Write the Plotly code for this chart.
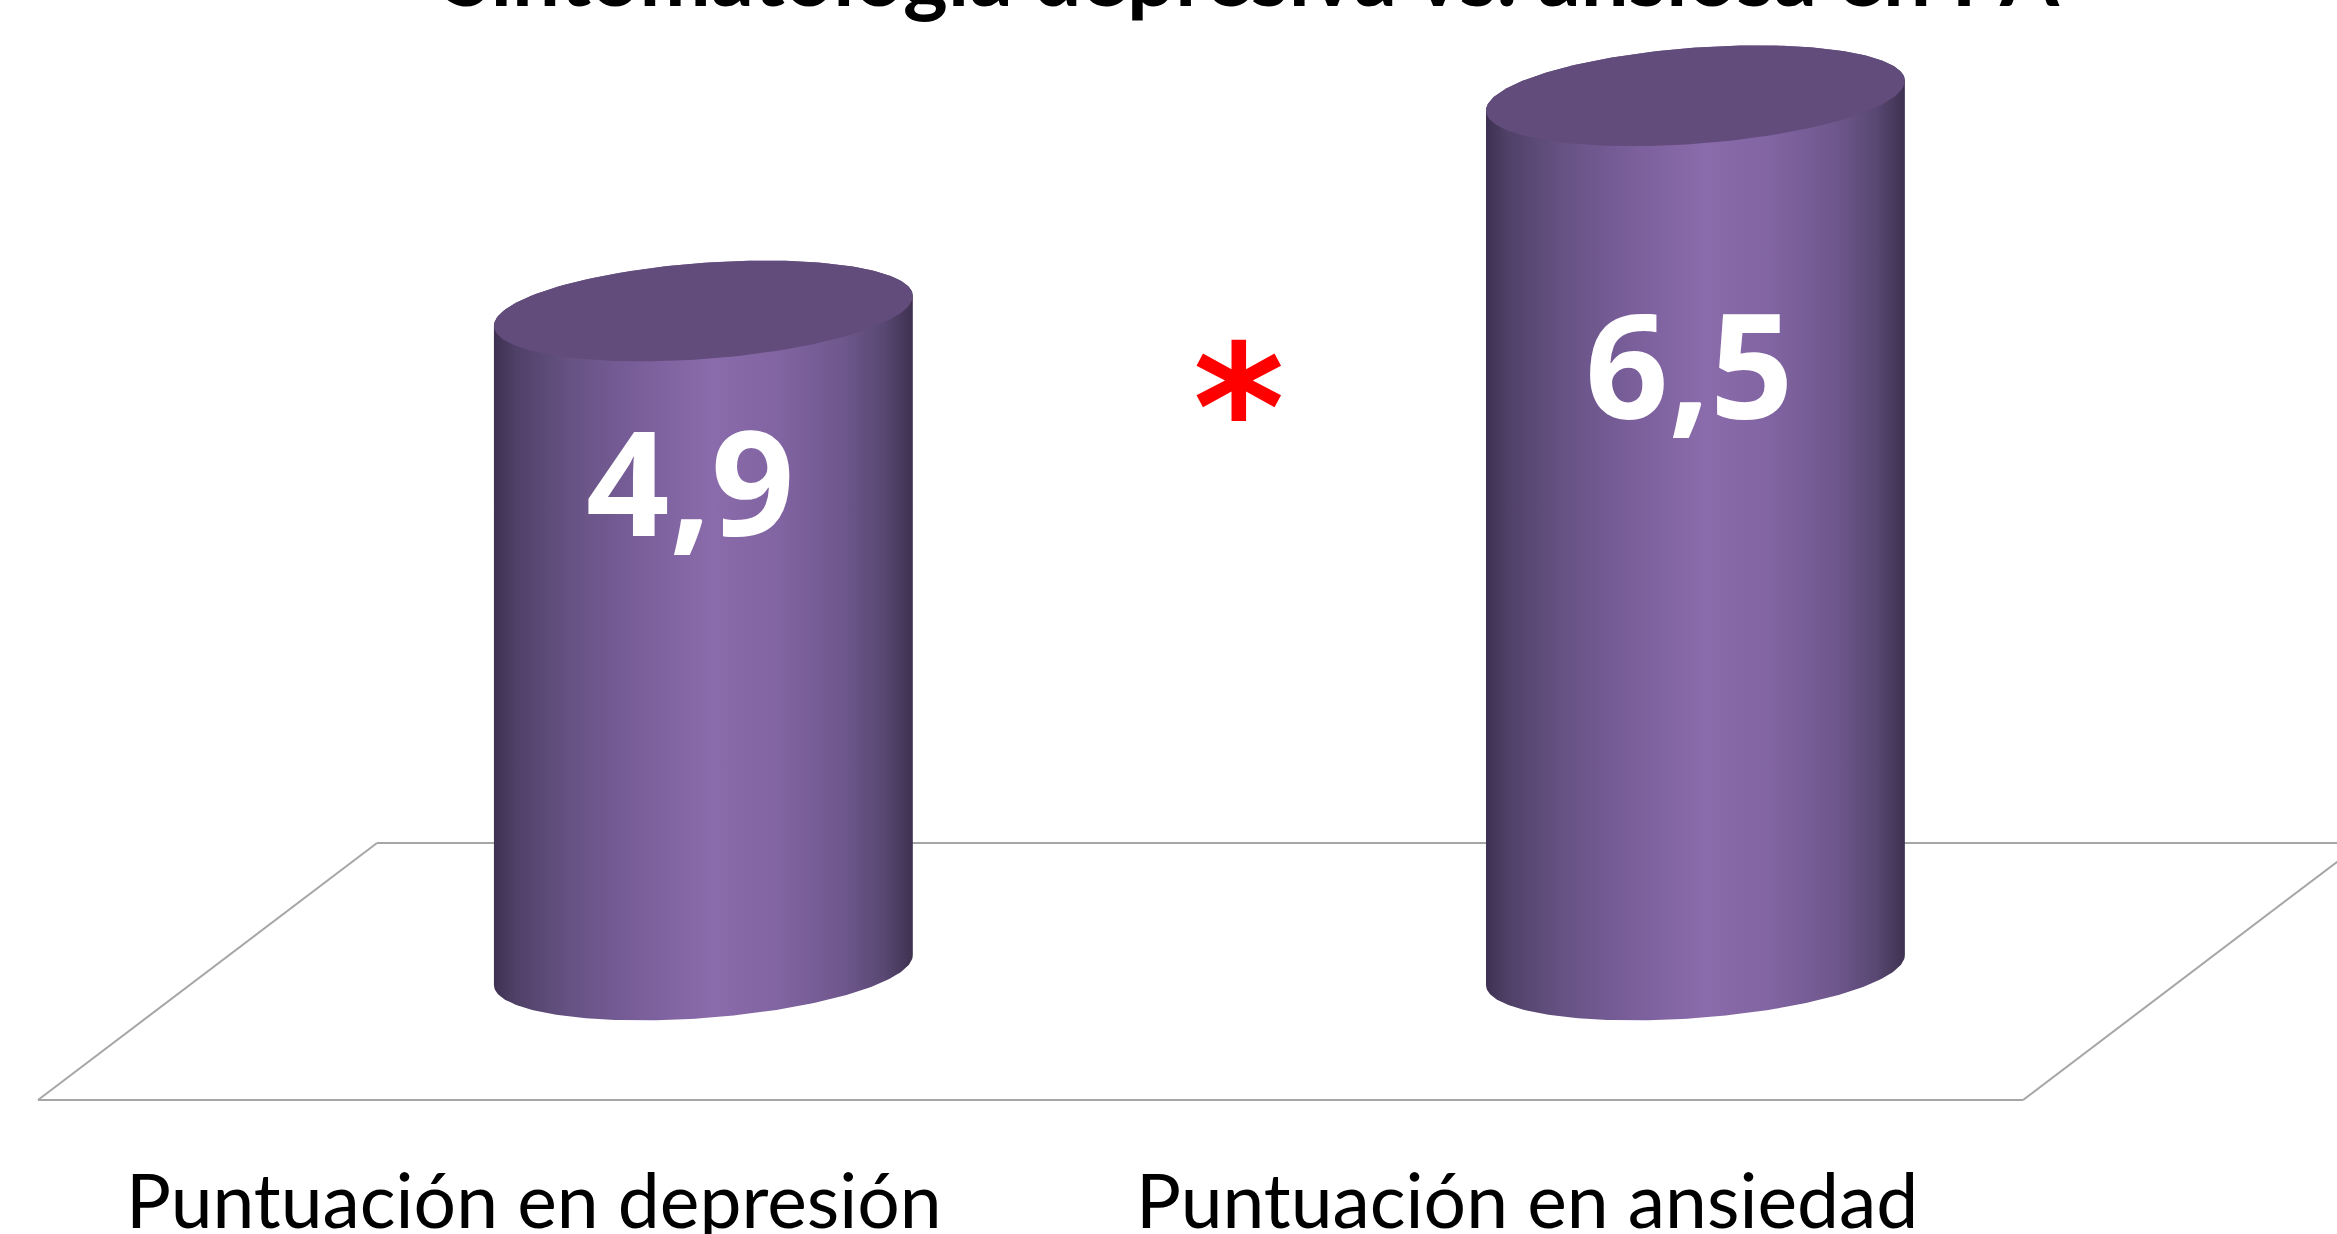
import numpy as np
import plotly.graph_objects as go

# ---------------- data ----------------
categories = ["Puntuación en depresión", "Puntuación en ansiedad"]
values = [4.9, 6.5]
value_labels = ["4,9", "6,5"]
title_text = "Sintomatología depresiva vs. ansiosa en PA"
significance_mark = "*"

# ---------------- layout constants (style) ----------------
W, H = 2337, 1234
X_RANGE = [-0.709, 1.6467]
Y_RANGE = [-1.963, 7.212]
PX_X = W / (X_RANGE[1] - X_RANGE[0])
PX_Y = H / (Y_RANGE[1] - Y_RANGE[0])

A_PX, B_PX, THETA = 210.0, 48.0, 0.075   # cylinder ellipse (pixels) and tilt
LABEL_DROP_PX = [169, 267]               # value label offset below bar top
LABEL_XSHIFT = [-13, -6]

BODY_SCALE = [
    [0.00, "#3d3050"], [0.05, "#4f4067"], [0.18, "#665283"],
    [0.35, "#7a5f9b"], [0.52, "#8a6bab"], [0.68, "#8164a2"],
    [0.83, "#6f588d"], [0.93, "#594873"], [1.00, "#3e3150"],
]
TOP_COLOR = "#624c7b"
FLOOR_COLOR = "#a6a6a6"


def ellipse(cx, cy, t):
    X = A_PX * np.cos(t) * np.cos(THETA) - B_PX * np.sin(t) * np.sin(THETA)
    Y = A_PX * np.cos(t) * np.sin(THETA) + B_PX * np.sin(t) * np.cos(THETA)
    return cx + X / PX_X, cy + Y / PX_Y


fig = go.Figure()

t_r = np.arctan(-(B_PX / A_PX) * np.tan(THETA))
for i, v in enumerate(values):
    t_top = np.linspace(t_r, t_r + np.pi, 120)
    t_bot = np.linspace(t_r + np.pi, t_r + 2 * np.pi, 120)
    xt, yt = ellipse(i, v, t_top)
    xb, yb = ellipse(i, 0.0, t_bot)
    xs = np.concatenate([xt, xb, xt[:1]])
    ys = np.concatenate([yt, yb, yt[:1]])
    fig.add_trace(go.Scatter(
        x=xs, y=ys, mode="lines", fill="toself",
        line=dict(width=0, color="rgba(0,0,0,0)"),
        fillgradient=dict(type="horizontal", colorscale=BODY_SCALE),
        hoverinfo="skip", showlegend=False,
    ))
    t_all = np.linspace(0, 2 * np.pi, 240)
    xe, ye = ellipse(i, v, t_all)
    fig.add_trace(go.Scatter(
        x=xe, y=ye, mode="lines", fill="toself", fillcolor=TOP_COLOR,
        line=dict(width=0, color=TOP_COLOR),
        hoverinfo="skip", showlegend=False,
    ))

annotations = []
for i, (v, lab) in enumerate(zip(values, value_labels)):
    annotations.append(dict(
        x=i, y=v, xref="x", yref="y", text=lab, showarrow=False,
        xanchor="center", yanchor="middle",
        xshift=LABEL_XSHIFT[i], yshift=-LABEL_DROP_PX[i],
        font=dict(family="Open Sans", size=146, color="white", weight="bold"),
    ))

# floor (parallelogram) in paper coordinates
def P(px, py):
    return px / W, 1 - py / H

floor_front_left, floor_front_right = 38, 2023
floor_front_y, floor_back_y = 1100, 843
floor_dx = 339
shapes = []
segs = [
    ((floor_front_left, floor_front_y), (floor_front_left + floor_dx, floor_back_y)),
    ((floor_front_left + floor_dx, floor_back_y), (W + 40, floor_back_y)),
    ((floor_front_left, floor_front_y), (floor_front_right, floor_front_y)),
    ((floor_front_right, floor_front_y), (floor_front_right + floor_dx, floor_back_y)),
]
for (a, b) in segs:
    x0, y0 = P(*a)
    x1, y1 = P(*b)
    shapes.append(dict(type="line", xref="paper", yref="paper",
                       x0=x0, y0=y0, x1=x1, y1=y1, layer="below",
                       line=dict(color=FLOOR_COLOR, width=2)))

# category labels centred in slots along the floor's front edge
n = len(categories)
for i, c in enumerate(categories):
    xp = (floor_front_left + (i + 0.5) / n * (floor_front_right - floor_front_left)) / W
    annotations.append(dict(
        x=xp, y=1 - 1199 / H, xref="paper", yref="paper", text=c,
        showarrow=False, xanchor="center", yanchor="middle",
        font=dict(family="Lato", size=75, color="black"),
    ))

# significance asterisk between the bars
annotations.append(dict(
    x=0.5, y=(Y_RANGE[1] - 380 / PX_Y), xref="x", yref="y",
    text=significance_mark, showarrow=False, xanchor="center", yanchor="middle",
    xshift=40, yshift=-29,
    font=dict(family="DejaVu Sans", size=175, color="#ff0000", weight="bold"),
))

# title (cut off at top of the canvas)
annotations.append(dict(
    x=1252 / W, y=1, xref="paper", yref="paper", text=title_text,
    showarrow=False, xanchor="center", yanchor="bottom", yshift=-26,
    font=dict(family="Lato", size=85, color="black", weight="bold"),
))

fig.update_layout(
    width=W, height=H,
    margin=dict(l=0, r=0, t=0, b=0),
    paper_bgcolor="white", plot_bgcolor="white",
    xaxis=dict(range=X_RANGE, visible=False, fixedrange=True),
    yaxis=dict(range=Y_RANGE, visible=False, fixedrange=True),
    shapes=shapes, annotations=annotations, showlegend=False,
)

fig.write_html("out.html", config={"displayModeBar": False},
               post_script="document.body.style.margin='0';document.body.style.overflow='hidden';")
